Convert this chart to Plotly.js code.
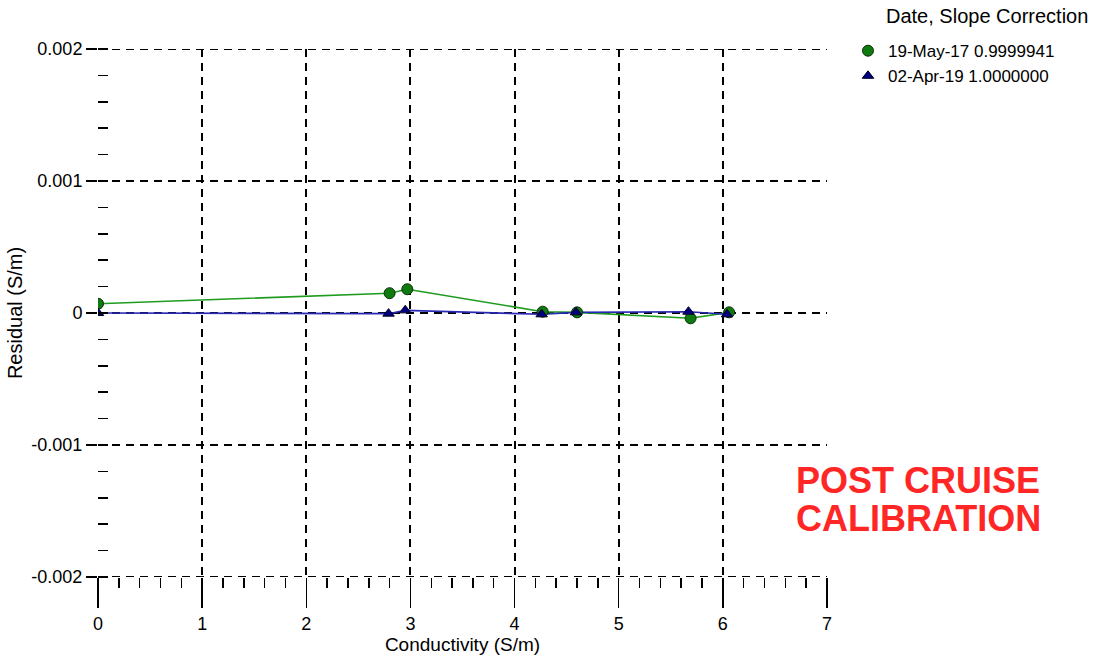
<!DOCTYPE html>
<html>
<head>
<meta charset="utf-8">
<script src="https://cdn.plot.ly/plotly-3.0.1.min.js"></script>
<style>html,body{margin:0;padding:0;background:#fff;}#chart{width:1093px;height:656px;}</style>
</head>
<body>
<div id="chart"></div>
<script>
// Data
var conductivityMay17 = [0.00, 2.80, 2.97, 4.27, 4.60, 5.69, 6.06];
var residualMay17    = [0.00007, 0.00015, 0.00018, 0.00001, 0.000005, -0.00004, 0.000005];
var conductivityApr19 = [0.00, 2.79, 2.95, 4.26, 4.59, 5.67, 6.04];
var residualApr19    = [0.0, -0.000005, 0.00002, -0.00001, 0.000005, 0.00001, -0.00001];
var seriesNames = ['19-May-17 0.9999941', '02-Apr-19 1.0000000'];
var xTickVals = [0, 1, 2, 3, 4, 5, 6, 7];
var xGridVals = [1, 2, 3, 4, 5, 6];
var yTickVals = [-0.002, -0.001, 0, 0.001, 0.002];
var yTickText = ['-0.002', '-0.001', '0', '0.001', '0.002'];

var FONT = 'Liberation Sans, Arial, sans-serif';
var greenLine = '#1f9c1f', greenFill = '#0f7a0f';
var blueLine = '#2828b4', blueFill = '#000080';
var GRID_DASH = '8px,6px';

var traces = [
  {x: conductivityMay17, y: residualMay17, mode: 'lines', line: {color: greenLine, width: 1.6}, showlegend: false, hoverinfo: 'skip'},
  {x: conductivityApr19, y: residualApr19, mode: 'lines', line: {color: blueLine, width: 1.6}, showlegend: false, hoverinfo: 'skip'},
  {x: conductivityMay17, y: residualMay17, mode: 'markers', name: seriesNames[0],
   marker: {symbol: 'circle', size: 11, color: greenFill, line: {color: '#0a300a', width: 1}}},
  {x: conductivityApr19, y: residualApr19, mode: 'markers', name: seriesNames[1],
   marker: {symbol: 'triangle-up', size: 10, color: blueFill, line: {color: '#000020', width: 1}}},
  // invisible trace to carry the vertical grid overlay axis
  {x: [0, 7], y: [0, 0], xaxis: 'x2', mode: 'lines', line: {width: 0}, opacity: 0, showlegend: false, hoverinfo: 'skip'}
];

// dashed frame lines at the y-range edges (Plotly omits edge gridlines)
var edgeShapes = [yTickVals[0], yTickVals[yTickVals.length - 1]].map(function (v) {
  return {type: 'line', xref: 'paper', yref: 'y', x0: 0, x1: 1, y0: v, y1: v,
          line: {color: '#000', width: 2, dash: GRID_DASH}, layer: 'below'};
});

var layout = {
  width: 1093, height: 656,
  margin: {l: 98, r: 266, t: 49, b: 79},
  paper_bgcolor: '#ffffff', plot_bgcolor: '#ffffff',
  font: {family: FONT, size: 17, color: '#000'},
  showlegend: true,
  legend: {x: 1.0288, xanchor: 'left', y: 1.03, yanchor: 'top', font: {family: FONT, size: 17, color: '#000'},
           bgcolor: 'rgba(0,0,0,0)', tracegroupgap: 0},
  xaxis: {
    range: [0, 7], tickvals: xTickVals, ticktext: xTickVals.map(String),
    showgrid: false, zeroline: false, showline: false,
    ticks: 'outside', ticklen: 30, tickwidth: 1.5, tickcolor: '#000',
    tickfont: {family: FONT, size: 18, color: '#000'},
    minor: {dtick: 0.2, tick0: 0, ticks: 'outside', ticklen: 10, tickwidth: 1.5, tickcolor: '#000', showgrid: false},
    title: {text: 'Conductivity (S/m)', font: {family: FONT, size: 19, color: '#000'}, standoff: 4}
  },
  xaxis2: {
    overlaying: 'x', range: [0, 7], tickvals: xGridVals, showticklabels: false, ticks: '',
    showgrid: true, gridcolor: '#000', gridwidth: 2, griddash: GRID_DASH, zeroline: false, showline: false
  },
  yaxis: {
    range: [-0.002, 0.002], tickvals: yTickVals, ticktext: yTickText,
    showgrid: true, gridcolor: '#000', gridwidth: 2, griddash: GRID_DASH,
    zeroline: false, showline: false,
    ticks: 'outside', ticklen: 11, tickwidth: 1.5, tickcolor: '#000',
    tickfont: {family: FONT, size: 18, color: '#000'},
    minor: {dtick: 0.0002, tick0: 0, ticks: 'inside', ticklen: 10, tickwidth: 1.5, tickcolor: '#000', showgrid: false},
    title: {text: 'Residual (S/m)', font: {family: FONT, size: 20, color: '#000'}, standoff: 3}
  },
  shapes: edgeShapes,
  annotations: [
    {text: 'Date, Slope Correction', xref: 'paper', yref: 'paper', x: 1.078, y: 1.0625, xanchor: 'left', yanchor: 'middle',
     showarrow: false, font: {family: FONT, size: 20, color: '#000'}},
    {text: '<b>POST CRUISE</b>', xref: 'paper', yref: 'paper', x: 1.125, y: 0.1837, xanchor: 'center', yanchor: 'middle',
     showarrow: false, font: {family: FONT, size: 36, color: '#ff2626'}},
    {text: '<b>CALIBRATION</b>', xref: 'paper', yref: 'paper', x: 1.125, y: 0.1117, xanchor: 'center', yanchor: 'middle',
     showarrow: false, font: {family: FONT, size: 36, color: '#ff2626'}}
  ]
};

Plotly.newPlot('chart', traces, layout, {displayModeBar: false, staticPlot: true});
</script>
</body>
</html>
